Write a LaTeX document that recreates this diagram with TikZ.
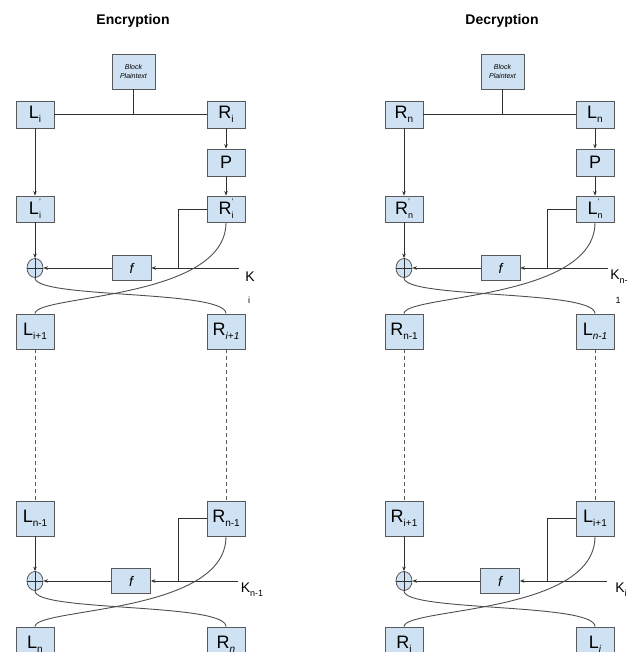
\documentclass[tikz,border=0pt]{standalone}
\usepackage{fontspec}
\setmainfont{Liberation Sans}
\usetikzlibrary{arrows.meta,shapes.geometric}
\definecolor{boxfill}{HTML}{CFE2F3}
\definecolor{boxline}{HTML}{595959}
\definecolor{wire}{HTML}{303030}

\newcommand\subl[2]{#1\raisebox{-4pt}{\fontsize{10}{10}\selectfont #2}}
\newcommand\subsupl[3]{#1\makebox[0pt][l]{\raisebox{10pt}{\fontsize{8}{8}\selectfont #3}}\raisebox{-4pt}{\fontsize{9}{9}\selectfont #2}}

\tikzset{
  boxnode/.style={draw=boxline, fill=boxfill, line width=0.8pt, minimum width=38pt,
    minimum height=27pt, inner sep=0pt, font=\fontsize{18}{18}\selectfont},
  tallbox/.style={boxnode, minimum height=35pt},
  fbox/.style={boxnode, minimum width=39pt, minimum height=25pt, font=\itshape\fontsize{14}{14}\selectfont},
  xornode/.style={draw=boxline, fill=boxfill, line width=0.8pt, ellipse, minimum width=16pt,
    minimum height=19pt, inner sep=0pt},
  titlenode/.style={font=\bfseries\fontsize{14}{14}\selectfont, inner sep=0pt},
  klab/.style={font=\fontsize{14}{14}\selectfont, inner sep=0pt},
  klabsub/.style={font=\fontsize{9}{9}\selectfont, inner sep=0pt},
  arr/.style={draw=wire, line width=0.7pt, -{Stealth[length=4.5pt,width=3.5pt]}},
  ln/.style={draw=wire, line width=0.7pt},
  curveln/.style={draw=wire!85, line width=0.9pt},
  dashln/.style={draw=wire!80, line width=0.7pt, dash pattern=on 4pt off 3pt},
}

\newcommand\drawhalf[2]{%
\begin{scope}[xshift=#2]
  \node[titlenode] (#1t) at (133,21) {\Ttitle};
  \node[boxnode, minimum width=43pt, minimum height=35pt, align=center,
        font=\itshape\fontsize{7}{8.5}\selectfont] (#1b) at (133.5,71.5) {Block\\Plaintext};
  \node[boxnode] (#1a) at (35,114.5) {\Ta};
  \node[boxnode] (#1c) at (226,114.5) {\Tc};
  \node[boxnode] (#1p) at (226,162.5) {P};
  \node[boxnode, minimum height=26pt] (#1a2) at (35,209) {\Tap};
  \node[boxnode, minimum height=26pt] (#1c2) at (226,209) {\Tcp};
  \node[xornode] (#1x) at (35,268) {};
  \node[fbox] (#1f) at (131.5,268) {f};
  \coordinate (#1k) at (239,268);
  \coordinate (#1j) at (178,268);
  \node[klab] (#1kl) at (250,277) {\Tk};
  \node[klabsub] (#1ks) at (249,300) {\Tks};
  \node[tallbox] (#1d) at (35,331.5) {\Td};
  \node[tallbox] (#1e) at (226,331.5) {\Te};
  \node[tallbox] (#1g) at (35,518.5) {\Tg};
  \node[tallbox] (#1h) at (226,518.5) {\Th};
  \node[xornode] (#1y) at (35,581) {};
  \node[fbox] (#1f2) at (131,581) {f};
  \coordinate (#1k2) at (238,581);
  \coordinate (#1j2) at (178,581);
  \node[klab] (#1kl2) at (252,590) {\Tkk};
  \node[tallbox] (#1m) at (35,644.5) {\Tm};
  \node[tallbox] (#1n) at (226,644.5) {\Tn};
  % connectors: round 1
  \draw[ln] (#1b.south) -- (#1b.south |- #1a.east);
  \draw[ln] (#1a.east) -- (#1c.west);
  \draw[arr] (#1a.south) -- (#1a2.north);
  \draw[arr] (#1c.south) -- (#1p.north);
  \draw[arr] (#1p.south) -- (#1c2.north);
  \draw[arr] (#1a2.south) -- (#1x.north);
  \draw[ln] (#1x.north) -- (#1x.south) (#1x.west) -- (#1x.east);
  \draw[arr] (#1f.west) -- (#1x.east);
  \draw[arr] (#1k) -- (#1f.east);
  \draw[ln] (#1c2.west) -| (#1j);
  \draw[curveln] (#1c2.south) .. controls +(0,78) and +(0,-19) .. (#1d.north);
  \draw[curveln] (#1x.south) .. controls +(0,21) and +(0,-24) .. (#1e.north);
  \draw[dashln] (#1d.south) -- (#1g.north);
  \draw[dashln] (#1e.south) -- (#1h.north);
  % connectors: last round
  \draw[arr] (#1g.south) -- (#1y.north);
  \draw[ln] (#1y.north) -- (#1y.south) (#1y.west) -- (#1y.east);
  \draw[arr] (#1f2.west) -- (#1y.east);
  \draw[arr] (#1k2) -- (#1f2.east);
  \draw[ln] (#1h.west) -| (#1j2);
  \draw[curveln] (#1h.south) .. controls +(0,78) and +(0,-19) .. (#1m.north);
  \draw[curveln] (#1y.south) .. controls +(0,21) and +(0,-24) .. (#1n.north);
\end{scope}}

\begin{document}
\begin{tikzpicture}[x=1pt,y=-1pt]
  \useasboundingbox (0,0) rectangle (637,652);
  \clip (0,0) rectangle (637,652);
  \fill[white] (0,0) rectangle (637,652);
  % Encryption
  \def\Ttitle{Encryption}
  \def\Ta{\subl{L}{i}}
  \def\Tc{\subl{R}{i}}
  \def\Tap{\subsupl{L}{i}{'}}
  \def\Tcp{\subsupl{R}{i}{'}}
  \def\Td{\subl{L}{i+1}}
  \def\Te{\subl{R}{\textit{i+1}}}
  \def\Tk{K}
  \def\Tks{i}
  \def\Tg{\subl{L}{n-1}}
  \def\Th{\subl{R}{n-1}}
  \def\Tkk{K\raisebox{-4pt}{\fontsize{9}{9}\selectfont n-1}}
  \def\Tm{\subl{L}{n}}
  \def\Tn{\subl{R}{\textit{n}}}
  \drawhalf{e}{0pt}
  % Decryption
  \def\Ttitle{Decryption}
  \def\Ta{\subl{R}{n}}
  \def\Tc{\subl{L}{n}}
  \def\Tap{\subsupl{R}{n}{'}}
  \def\Tcp{\subsupl{L}{n}{'}}
  \def\Td{\subl{R}{n-1}}
  \def\Te{\subl{L}{\textit{n-1}}}
  \def\Tk{K\raisebox{-4pt}{\fontsize{9}{9}\selectfont n-}}
  \def\Tks{1}
  \def\Tg{\subl{R}{i+1}}
  \def\Th{\subl{L}{i+1}}
  \def\Tkk{K\raisebox{-4pt}{\fontsize{9}{9}\selectfont i}}
  \def\Tm{\subl{R}{i}}
  \def\Tn{\subl{L}{\textit{i}}}
  \drawhalf{d}{369pt}
\end{tikzpicture}
\end{document}
